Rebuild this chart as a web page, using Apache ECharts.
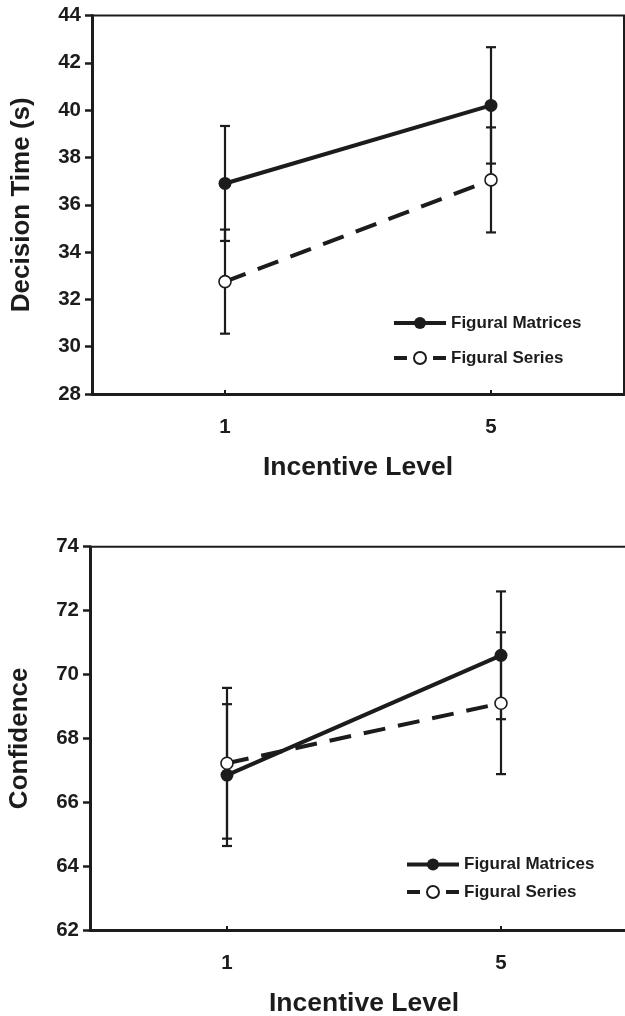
<!DOCTYPE html>
<html>
<head>
<meta charset="utf-8">
<script src="https://cdn.jsdelivr.net/npm/echarts@6/dist/echarts.min.js"></script>
<style>
html,body{margin:0;padding:0;background:#fff;}
#chart{width:625px;height:1016px;}
</style>
</head>
<body>
<div id="chart"></div>
<script>
// ---- data ----
const categories = ['1', '5'];
const seriesNames = ['Figural Matrices', 'Figural Series'];

// Top panel: Decision Time (s)
const dtMatrices = [36.9, 40.2];
const dtMatricesErr = [2.43, 2.46];
const dtSeries = [32.75, 37.05];
const dtSeriesErr = [2.2, 2.22];

// Bottom panel: Confidence
const confMatrices = [66.85, 70.6];
const confMatricesErr = [2.22, 2.0];
const confSeries = [67.22, 69.1];
const confSeriesErr = [2.36, 2.22];

const dtTicks = {min: 28, max: 44, interval: 2};
const confTicks = {min: 62, max: 74, interval: 2};

// ---- styling ----
const INK = '#1c1c1c';
const FONT = '"Liberation Sans", Arial, sans-serif';

function errData(means, errs) {
  return means.map((m, i) => [i, m, errs[i]]);
}

function errorBarSeries(name, xIdx, yIdx, means, errs) {
  return {
    type: 'custom',
    name: name + ' err',
    xAxisIndex: xIdx,
    yAxisIndex: yIdx,
    z: 2,
    silent: true,
    data: errData(means, errs),
    renderItem: function (params, api) {
      const x = api.value(0), y = api.value(1), e = api.value(2);
      const t = api.coord([x, y + e]);
      const b = api.coord([x, y - e]);
      const hw = 5;
      const st = {stroke: INK, lineWidth: 2.2};
      return {
        type: 'group',
        children: [
          {type: 'line', shape: {x1: t[0], y1: t[1], x2: b[0], y2: b[1]}, style: st},
          {type: 'line', shape: {x1: t[0] - hw, y1: t[1], x2: t[0] + hw, y2: t[1]}, style: st},
          {type: 'line', shape: {x1: b[0] - hw, y1: b[1], x2: b[0] + hw, y2: b[1]}, style: st}
        ]
      };
    }
  };
}

function lineSeries(name, xIdx, yIdx, values, dashed) {
  return {
    type: 'line',
    name: name,
    xAxisIndex: xIdx,
    yAxisIndex: yIdx,
    z: 5,
    data: values,
    symbol: 'circle',
    symbolSize: dashed ? 12 : 13,
    showSymbol: true,
    animation: false,
    lineStyle: {color: INK, width: 4, type: dashed ? [22, 13] : 'solid'},
    itemStyle: {color: dashed ? '#ffffff' : INK, borderColor: INK, borderWidth: dashed ? 1.6 : 0}
  };
}

function yAxis(gridIndex, ticks, name) {
  return {
    type: 'value',
    gridIndex: gridIndex,
    min: ticks.min,
    max: ticks.max,
    interval: ticks.interval,
    name: name,
    nameLocation: 'middle',
    nameGap: 57,
    nameRotate: 90,
    nameTextStyle: {fontFamily: FONT, fontWeight: 'bold', fontSize: 26, color: INK},
    axisLine: {show: true, lineStyle: {color: INK, width: 3}},
    axisTick: {show: true, length: 7, lineStyle: {color: INK, width: 2.5}},
    axisLabel: {fontFamily: FONT, fontWeight: 'bold', fontSize: 20.5, color: INK, margin: 11},
    splitLine: {show: false}
  };
}

function xAxis(gridIndex, gap) {
  return {
    type: 'category',
    gridIndex: gridIndex,
    data: categories,
    boundaryGap: true,
    name: 'Incentive Level',
    nameLocation: 'middle',
    nameGap: gap,
    nameTextStyle: {fontFamily: FONT, fontWeight: 'bold', fontSize: 26.5, color: INK},
    axisLine: {show: true, lineStyle: {color: INK, width: 3}},
    axisTick: {show: true, alignWithLabel: true, inside: true, length: 4, lineStyle: {color: INK, width: 2}},
    axisLabel: {fontFamily: FONT, fontWeight: 'bold', fontSize: 20.5, color: INK, margin: 23},
    splitLine: {show: false}
  };
}

function legend(left, top, gap) {
  return {
    orient: 'vertical',
    left: left,
    top: top,
    padding: 0,
    itemWidth: 52,
    itemHeight: 15,
    itemGap: gap,
    selectedMode: false,
    textStyle: {fontFamily: FONT, fontWeight: 'bold', fontSize: 17, color: INK, lineHeight: 14},
    data: [
      {name: seriesNames[0], lineStyle: {width: 4}},
      {name: seriesNames[1], lineStyle: {type: [13, 26], width: 4}}
    ]
  };
}

const chart = echarts.init(document.getElementById('chart'), null, {renderer: 'canvas'});

const option = {
  backgroundColor: '#ffffff',
  animation: false,
  grid: [
    {left: 92, top: 15.5, width: 532, height: 378.5, show: true, borderColor: INK, borderWidth: 2, backgroundColor: 'transparent', outerBoundsMode: 'none'},
    {left: 90, top: 546.7, width: 548, height: 383.3, show: true, borderColor: INK, borderWidth: 2, backgroundColor: 'transparent', outerBoundsMode: 'none'}
  ],
  xAxis: [xAxis(0, 60), xAxis(1, 60)],
  yAxis: [yAxis(0, dtTicks, 'Decision Time (s)'), yAxis(1, confTicks, 'Confidence')],
  legend: [legend(392, 314.5, 18), legend(405, 856, 10.5)],
  series: [
    errorBarSeries(seriesNames[0], 0, 0, dtMatrices, dtMatricesErr),
    errorBarSeries(seriesNames[1], 0, 0, dtSeries, dtSeriesErr),
    lineSeries(seriesNames[0], 0, 0, dtMatrices, false),
    lineSeries(seriesNames[1], 0, 0, dtSeries, true),
    errorBarSeries(seriesNames[0], 1, 1, confMatrices, confMatricesErr),
    errorBarSeries(seriesNames[1], 1, 1, confSeries, confSeriesErr),
    lineSeries(seriesNames[0], 1, 1, confMatrices, false),
    lineSeries(seriesNames[1], 1, 1, confSeries, true)
  ]
};

chart.setOption(option);
</script>
</body>
</html>
